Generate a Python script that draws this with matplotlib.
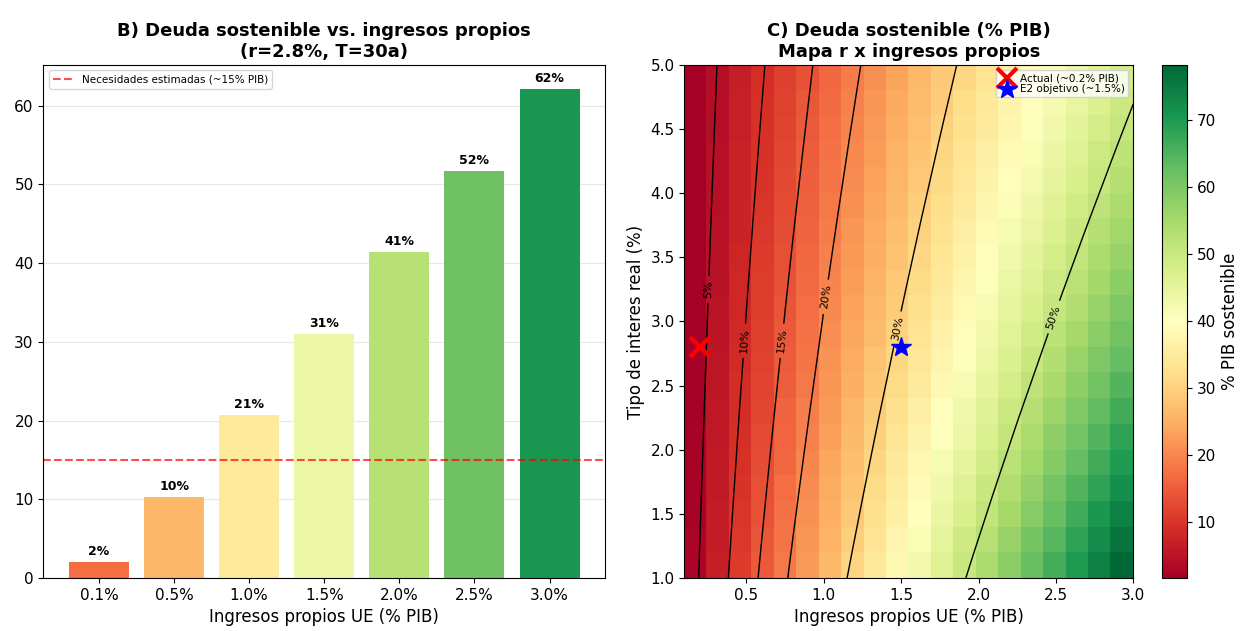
import numpy as np
import matplotlib
matplotlib.use('Agg')
import matplotlib.pyplot as plt

# --- Panel B: deuda sostenible por nivel de ingresos propios (r=2.8%, T=30a)
ingresos_labels = ['0.1%', '0.5%', '1.0%', '1.5%', '2.0%', '2.5%', '3.0%']
deuda_sostenible = [2.07, 10.35, 20.69, 31.04, 41.38, 51.73, 62.07]
necesidades = 15

# --- Panel C: mapa r x ingresos propios (rejilla 20 x 20)
ingresos_grid = [0.10, 0.25, 0.41, 0.56, 0.71, 0.86, 1.02, 1.17, 1.32, 1.47,
                 1.63, 1.78, 1.93, 2.08, 2.24, 2.39, 2.54, 2.69, 2.85, 3.00]
tipos_grid = [1.00, 1.21, 1.42, 1.63, 1.84, 2.05, 2.26, 2.47, 2.68, 2.89,
              3.11, 3.32, 3.53, 3.74, 3.95, 4.16, 4.37, 4.58, 4.79, 5.00]
# multiplicador deuda/ingresos para cada tipo de interes (fila)
factor_anualidad = [26.07, 25.34, 24.63, 23.96, 23.31, 22.69, 22.10, 21.52, 20.97, 20.45,
                    19.94, 19.45, 18.98, 18.53, 18.09, 17.67, 17.27, 16.88, 16.50, 16.14]
niveles = [5, 10, 15, 20, 30, 50]
actual = (0.2, 2.8)
objetivo = (1.5, 2.8)

deuda_grid = np.outer(factor_anualidad, ingresos_grid)

fig = plt.figure(figsize=(12.4, 6.31), dpi=100)

# ---------------- B) barras
ax1 = fig.add_axes([0.035, 0.084, 0.453, 0.813])
colores = plt.cm.RdYlGn(np.linspace(0.2, 0.9, len(deuda_sostenible)))
x = np.arange(len(deuda_sostenible))
bars = ax1.bar(x, deuda_sostenible, color=colores, width=0.8)
for b, v in zip(bars, deuda_sostenible):
    ax1.text(b.get_x() + b.get_width() / 2, v + 0.5, f'{v:.0f}%',
             ha='center', va='bottom', fontsize=9, fontweight='bold')
ax1.axhline(necesidades, color='red', linestyle='--', alpha=0.7, linewidth=1.5,
            label='Necesidades estimadas (~15% PIB)')
ax1.set_xticks(x)
ax1.set_xticklabels(ingresos_labels, fontsize=11)
ax1.tick_params(axis='y', labelsize=11)
ax1.set_ylim(0, max(deuda_sostenible) * 1.05)
ax1.set_xlabel('Ingresos propios UE (% PIB)', fontsize=12)
ax1.set_title('B) Deuda sostenible vs. ingresos propios\n(r=2.8%, T=30a)',
              fontsize=13, fontweight='bold')
ax1.legend(loc='upper left', fontsize=7.5)
ax1.grid(axis='y', alpha=0.3)
ax1.set_axisbelow(True)

# ---------------- C) mapa
ax2 = fig.add_axes([0.552, 0.084, 0.362, 0.813])
im = ax2.imshow(deuda_grid, origin='lower', aspect='auto', cmap='RdYlGn',
                extent=[ingresos_grid[0], ingresos_grid[-1], tipos_grid[0], tipos_grid[-1]])
cs = ax2.contour(ingresos_grid, tipos_grid, deuda_grid, levels=niveles,
                 colors='black', linewidths=1)
ax2.clabel(cs, fmt='%d%%', fontsize=8,
           manual=[(0.25, 3.25), (0.48, 2.85), (0.72, 2.85), (0.97, 3.2),
                   (1.46, 2.95), (2.45, 3.05)])
ax2.plot(*actual, 'x', color='red', markersize=15, markeredgewidth=3,
         label='Actual (~0.2% PIB)')
ax2.plot(*objetivo, '*', color='blue', markersize=15, label='E2 objetivo (~1.5%)')
ax2.set_xlim(ingresos_grid[0], ingresos_grid[-1])
ax2.set_ylim(tipos_grid[0], tipos_grid[-1])
ax2.set_xlabel('Ingresos propios UE (% PIB)', fontsize=12)
ax2.set_ylabel('Tipo de interes real (%)', fontsize=12)
ax2.tick_params(labelsize=11)
ax2.set_title('C) Deuda sostenible (% PIB)\nMapa r x ingresos propios',
              fontsize=13, fontweight='bold')
ax2.legend(loc='upper right', fontsize=7.5, handletextpad=0.5, borderpad=0.3,
           labelspacing=0.1, handlelength=1.5)

cax = fig.add_axes([0.937, 0.084, 0.020, 0.813])
cb = fig.colorbar(im, cax=cax)
cb.set_label('% PIB sostenible', fontsize=12)
cb.ax.tick_params(labelsize=11)

fig.savefig('out.png', dpi=100)
